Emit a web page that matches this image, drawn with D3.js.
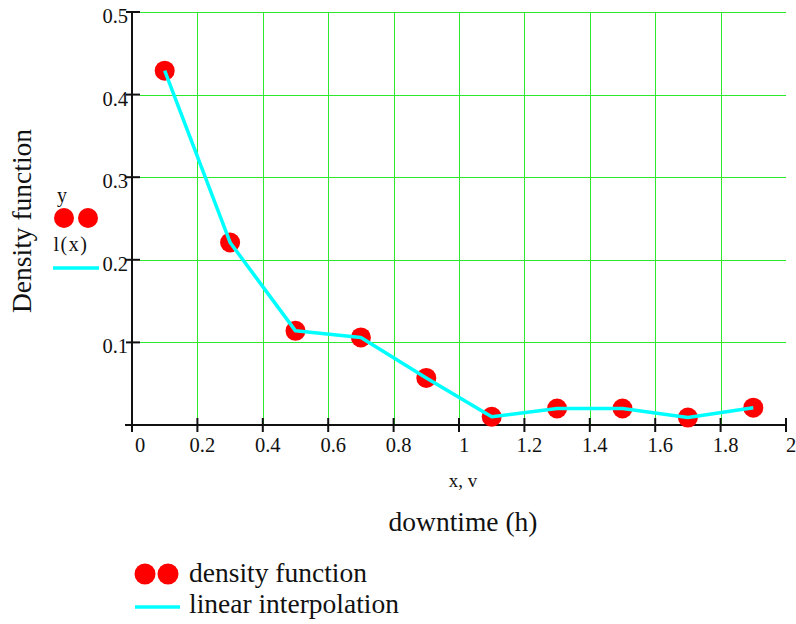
<!DOCTYPE html>
<html>
<head>
<meta charset="utf-8">
<script src="https://cdn.jsdelivr.net/npm/d3@7"></script>
<style>
  html, body { margin: 0; padding: 0; background: #fff; }
  svg { display: block; }
</style>
</head>
<body>
<svg id="chart" width="796" height="624"></svg>
<script>
// Downtime bins (h) and the estimated density in each bin
const downtime = [0.1, 0.3, 0.5, 0.7, 0.9, 1.1, 1.3, 1.5, 1.7, 1.9];
const density = [0.429, 0.221, 0.114, 0.106, 0.057, 0.010, 0.020, 0.020, 0.009, 0.021];

const xTicks = [0, 0.2, 0.4, 0.6, 0.8, 1, 1.2, 1.4, 1.6, 1.8, 2];
const yTicks = [0.1, 0.2, 0.3, 0.4, 0.5];
const xTickLabels = ["0", "0.2", "0.4", "0.6", "0.8", "1", "1.2", "1.4", "1.6", "1.8", "2"];
const yTickLabels = ["0.1", "0.2", "0.3", "0.4", "0.5"];

const serif = "'Liberation Serif', 'Times New Roman', 'DejaVu Serif', serif";

const svg = d3.select("#chart")
  .style("font-family", serif);

const x = d3.scaleLinear().domain([0, 2]).range([132, 786]);
const y = d3.scaleLinear().domain([0, 0.5]).range([425, 12]);

const gridColor = "#2ee82e";
const axisColor = "#111";
const textColor = "#111";
const dotColor = "#ff0000";
const lineColor = "#00ffff";

function label(parent, px, py, size, str, anchor) {
  return parent.append("text")
    .attr("x", px).attr("y", py)
    .attr("font-family", serif)
    .attr("font-size", size)
    .attr("fill", textColor)
    .attr("text-anchor", anchor || "start")
    .text(str);
}

// grid
const grid = svg.append("g");
grid.selectAll("line.v").data(xTicks.filter(d => d > 0 && d < 2)).join("line")
  .attr("x1", d => Math.round(x(d)) + 0.5).attr("x2", d => Math.round(x(d)) + 0.5)
  .attr("y1", y(0.5)).attr("y2", y(0))
  .attr("stroke", gridColor).attr("stroke-width", 1);
grid.selectAll("line.h").data(yTicks).join("line")
  .attr("x1", 140).attr("x2", x(2))
  .attr("y1", d => Math.round(y(d)) + 0.5).attr("y2", d => Math.round(y(d)) + 0.5)
  .attr("stroke", gridColor).attr("stroke-width", 1);

// axes
const axes = svg.append("g").attr("stroke", axisColor).attr("stroke-width", 2);
axes.append("line").attr("x1", 125).attr("x2", x(2) + 1).attr("y1", y(0)).attr("y2", y(0));
axes.append("line").attr("x1", x(0)).attr("x2", x(0)).attr("y1", y(0.5) - 1).attr("y2", y(0) + 7);
axes.selectAll("line.xt").data(xTicks).join("line")
  .attr("x1", d => x(d)).attr("x2", d => x(d))
  .attr("y1", y(0) - 7).attr("y2", y(0) + 7);
axes.selectAll("line.yt").data(yTicks).join("line")
  .attr("x1", x(0) - 6).attr("x2", x(0) + 8)
  .attr("y1", d => y(d)).attr("y2", d => y(d));

// tick labels
const xl = svg.append("g");
xTicks.forEach((d, i) => label(xl, x(d) + (i === 0 ? 8 : 5), 452, 20.5, xTickLabels[i], "middle"));
const yl = svg.append("g");
yTicks.forEach((d, i) => label(yl, 128, y(d) + 11, 20.5, yTickLabels[i], "end"));

// data points
svg.append("g").selectAll("circle").data(downtime).join("circle")
  .attr("cx", d => x(d))
  .attr("cy", (d, i) => y(density[i]))
  .attr("r", 10)
  .attr("fill", dotColor);

// linear interpolation through the points
const line = d3.line().x(d => x(d[0])).y(d => y(d[1]));
svg.append("path")
  .datum(downtime.map((d, i) => [d, density[i]]))
  .attr("d", line)
  .attr("fill", "none")
  .attr("stroke", lineColor)
  .attr("stroke-width", 3.5)
  .attr("stroke-linejoin", "round");

// axis titles
label(svg, 463, 487, 19, "x, v", "middle");
label(svg, 463, 531, 27.5, "downtime (h)", "middle");
label(svg, 0, 0, 27.5, "Density function", "middle")
  .attr("transform", "translate(31,221) rotate(-90)");

// trace labels beside the y axis
label(svg, 62, 202, 20, "y", "middle");
svg.append("circle").attr("cx", 64).attr("cy", 218).attr("r", 10).attr("fill", dotColor);
svg.append("circle").attr("cx", 88).attr("cy", 218).attr("r", 10).attr("fill", dotColor);
label(svg, 71, 251, 20, "l(x)", "middle").attr("letter-spacing", 1.5);
svg.append("line").attr("x1", 53).attr("x2", 99).attr("y1", 268).attr("y2", 268)
  .attr("stroke", lineColor).attr("stroke-width", 3.5);

// legend
const legend = svg.append("g");
legend.append("circle").attr("cx", 145).attr("cy", 574).attr("r", 10.5).attr("fill", dotColor);
legend.append("circle").attr("cx", 168).attr("cy", 574).attr("r", 10.5).attr("fill", dotColor);
label(legend, 189, 582, 27.5, "density function");
legend.append("line").attr("x1", 135).attr("x2", 180).attr("y1", 607).attr("y2", 607)
  .attr("stroke", lineColor).attr("stroke-width", 3.5);
label(legend, 189, 613, 27.5, "linear interpolation");
</script>
</body>
</html>
